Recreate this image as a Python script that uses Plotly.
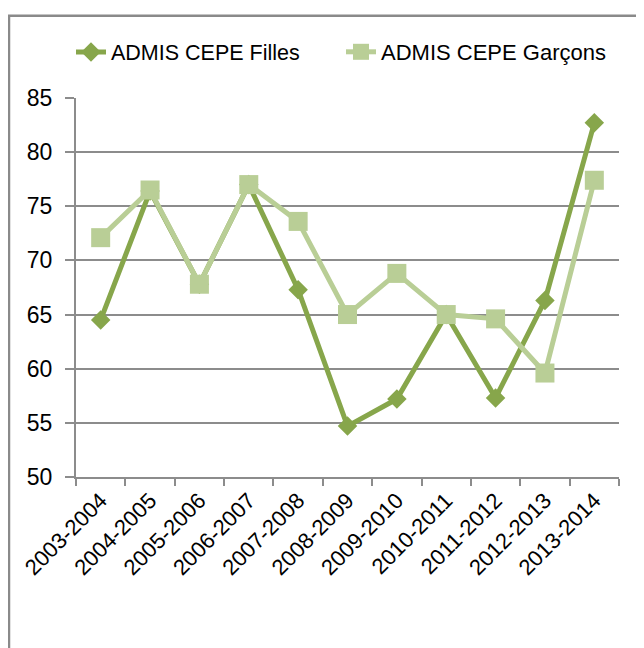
import plotly.graph_objects as go

# Data
years = ["2003-2004", "2004-2005", "2005-2006", "2006-2007", "2007-2008", "2008-2009",
         "2009-2010", "2010-2011", "2011-2012", "2012-2013", "2013-2014"]
filles = [64.5, 76.4, 67.8, 77.0, 67.3, 54.7, 57.2, 65.0, 57.3, 66.3, 82.7]
garcons = [72.1, 76.5, 67.8, 77.0, 73.6, 65.0, 68.8, 65.0, 64.6, 59.6, 77.4]

DARK = "#87A64B"
LIGHT = "#B9CE96"
GRID = "#8C8C8C"
FONT = "Liberation Sans"

fig = go.Figure()

fig.add_trace(go.Scatter(
    x=years, y=filles, mode="lines+markers", name="ADMIS CEPE Filles",
    line=dict(color=DARK, width=5),
    marker=dict(symbol="diamond", size=15, color=DARK),
    legend="legend", showlegend=True,
))
fig.add_trace(go.Scatter(
    x=years, y=garcons, mode="lines+markers", name="ADMIS CEPE Garçons",
    line=dict(color=LIGHT, width=5),
    marker=dict(symbol="square", size=19, color=LIGHT),
    legend="legend2", showlegend=True,
))

W, H = 644, 648
L, R, T, B = 68, 33, 86, 179
pw, ph = W - L - R, H - T - B

fig.update_xaxes(
    type="category", showgrid=False, showline=True, linecolor=GRID, linewidth=2,
    ticks="outside", ticklen=7, tickcolor=GRID, tickwidth=1.5,
    tickson="boundaries", tickangle=-45,
    tickfont=dict(family=FONT, size=22, color="black"),
    range=[-0.5, len(years) - 0.5],
)
fig.update_yaxes(
    range=[50, 85], dtick=5, showgrid=True, gridcolor=GRID, gridwidth=1.5,
    showline=True, linecolor=GRID, linewidth=2, zeroline=False,
    ticks="outside", ticklen=9, tickcolor=GRID, tickwidth=1.5,
    ticklabelstandoff=8,
    tickfont=dict(family=FONT, size=23, color="black"),
)

# chart border (Excel chart area)
fig.add_shape(
    type="rect", xref="paper", yref="paper",
    x0=(1 - L) / pw, x1=(W + 20 - L) / pw,
    y0=(H - B - (H + 20)) / ph, y1=(H - B - 3) / ph,
    line=dict(color="#8A8A8A", width=2.5), fillcolor="rgba(0,0,0,0)",
)

legend_style = dict(
    orientation="h", xanchor="left", xref="container",
    yref="container", y=1 - 44 / H, yanchor="middle",
    bgcolor="rgba(0,0,0,0)",
)

fig.update_layout(
    width=W, height=H,
    margin=dict(l=L, r=R, t=T, b=B),
    paper_bgcolor="white", plot_bgcolor="white",
    font=dict(family=FONT, size=22, color="black"),
    showlegend=True,
    legend=dict(x=63 / W, font=dict(family=FONT, size=21.5, color="black"), **legend_style),
    legend2=dict(x=333 / W, font=dict(family=FONT, size=22, color="black"), **legend_style),
)

fig.write_html("out.html")
